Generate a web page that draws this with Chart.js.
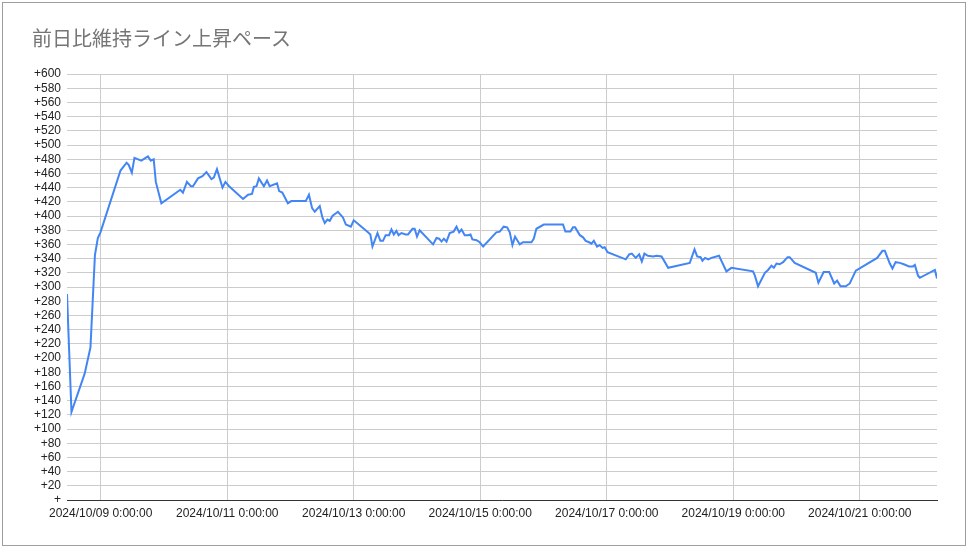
<!DOCTYPE html>
<html>
<head>
<meta charset="utf-8">
<script src="https://cdn.jsdelivr.net/npm/chart.js@4.4.1/dist/chart.umd.min.js"></script>
<style>
  html, body { margin: 0; padding: 0; background: #fff; }
  #wrap { position: relative; width: 968px; height: 550px; overflow: hidden; }
  #frame { position: absolute; left: 2px; top: 2px; width: 962px; height: 542px; border: 1px solid #9e9e9e; box-sizing: content-box; }
  #title { position: absolute; left: 32px; top: 25px; font-family: "Noto Sans CJK JP", sans-serif; font-size: 20px; color: #757575; white-space: nowrap; line-height: 26px; }
  canvas { position: absolute; left: 0; top: 0; }
</style>
</head>
<body>
<div id="wrap">
  <div id="frame"></div>
  <canvas id="c" width="968" height="550"></canvas>
  <div id="title">前日比維持ライン上昇ペース</div>
</div>
<script>
// Hours elapsed since 2024/10/09 0:00:00
const hours = [
  -12.8, -11.1, -6.1, -3.9, -2.2, -1.1, -0.1, 7.5, 9.8, 10.6, 11.8, 12.8, 15.4, 17.9, 19.0, 20.1, 20.9, 23.0,
  30.2, 31.2, 32.7, 34.2, 35.0, 36.9, 38.6, 40.1, 42.0, 42.9, 44.1, 46.2, 47.3, 48.7,
  54.0, 55.9, 57.4, 58.1, 59.1, 60.0, 61.9, 63.1, 64.1, 66.9, 67.7, 68.9, 71.0, 72.3,
  77.8, 79.0, 80.2, 81.2, 83.1, 84.1, 85.0, 86.0, 86.9, 87.9, 90.0, 91.9, 93.0, 94.9, 96.0,
  101.4, 102.3, 103.1, 105.0, 106.1, 107.1, 108.1, 109.4, 110.3, 111.2, 112.2, 113.0, 114.1, 115.7, 116.6,
  118.3, 119.1, 120.0, 121.0, 126.1, 127.4, 128.4, 129.3, 130.2, 131.2, 132.4, 133.9, 135.0, 136.0, 136.9,
  138.1, 139.4, 140.3, 141.0, 142.6, 143.8, 145.1, 150.1, 151.4, 152.9, 154.2, 155.2, 156.2, 157.2, 159.0,
  160.2, 163.4, 164.3, 165.3, 168.1, 175.4, 176.3, 178.2, 179.2, 180.0, 181.8, 183.0, 184.0, 185.3, 186.2,
  187.1, 188.3, 189.3, 190.4, 191.2, 192.3, 199.2, 200.5, 201.5, 203.0, 204.3, 205.3, 206.3, 207.6, 209.6,
  210.9, 212.8, 215.3, 223.5, 225.3, 226.3, 227.6, 228.3, 229.3, 230.5, 231.7, 234.6, 237.4, 239.3,
  247.5, 248.2, 249.4, 252.0, 253.2, 254.5, 255.4, 256.4, 257.6, 258.9, 260.6, 261.4, 263.3,
  271.3, 272.3, 274.3, 276.4, 278.3, 279.4, 280.7, 282.7, 284.2, 286.5, 294.6, 296.6, 297.5, 299.4, 300.4,
  301.6, 303.2, 304.7, 306.7, 308.2, 308.9, 310.1, 310.8, 316.5, 317.3
];
const paceValues = [
  290, 124, 178, 215, 345, 369, 377, 464, 475, 472, 461, 482, 478, 484, 478, 480, 448, 418,
  437, 433, 448, 442, 442, 453, 456, 462, 452, 454, 466, 440, 448, 442,
  424, 430, 431, 441, 442, 453, 442, 450, 442, 446, 435, 433, 418, 421,
  421, 430, 411, 406, 414, 398, 390, 395, 393, 400, 406, 398, 388, 385, 394,
  377, 374, 357, 376, 365, 365, 373, 373, 381, 374, 379, 373, 376, 374, 374,
  382, 382, 371, 380, 360, 369, 368, 364, 368, 364, 376, 378, 385, 377, 381,
  373, 373, 374, 367, 366, 363, 357, 377, 378, 385, 384, 377, 359, 371, 360,
  363, 363, 368, 382, 388, 388, 378, 378, 384, 384, 373, 370, 365, 363, 361,
  365, 357, 359, 355, 356, 349, 339, 346, 347, 341, 346, 336, 347, 344, 343,
  344, 343, 327, 334, 353, 343, 342, 337, 341, 339, 341, 344, 322, 327,
  322, 316, 301, 320, 324, 330, 327, 333, 332, 335, 342, 342, 334,
  320, 306, 321, 321, 305, 309, 301, 301, 305, 323, 341, 351, 351, 333, 326,
  335, 334, 332, 329, 329, 331, 316, 313, 324, 312
];
const yTickStep = 20;
const yMin = 0, yMax = 600;
const xTickStepHours = 48;
const startDate = [2024, 9, 9]; // 2024/10/09

const points = hours.map((h, i) => ({ x: h, y: paceValues[i] }));

function fmtDate(h) {
  const d = new Date(startDate[0], startDate[1], startDate[2], 0, 0, 0);
  d.setTime(d.getTime() + h * 3600000);
  const mm = String(d.getMonth() + 1).padStart(2, '0');
  const dd = String(d.getDate()).padStart(2, '0');
  const mi = String(d.getMinutes()).padStart(2, '0');
  const ss = String(d.getSeconds()).padStart(2, '0');
  return d.getFullYear() + '/' + mm + '/' + dd + ' ' + d.getHours() + ':' + mi + ':' + ss;
}

new Chart(document.getElementById('c'), {
  type: 'line',
  data: {
    datasets: [{
      data: points,
      borderColor: '#4285f4',
      borderWidth: 2,
      pointRadius: 0,
      pointHoverRadius: 0,
      tension: 0,
      fill: false
    }]
  },
  options: {
    responsive: false,
    animation: false,
    events: [],
    layout: { padding: { left: 0, top: 74, right: 31, bottom: 0 } },
    plugins: { legend: { display: false }, title: { display: false }, tooltip: { enabled: false } },
    scales: {
      x: {
        type: 'linear',
        min: hours[0],
        max: hours[hours.length - 1],
        afterFit: (s) => { s.height = 50; },
        border: { display: true, color: '#333333', width: 1 },
        grid: { color: '#cccccc', lineWidth: 1, drawTicks: false },
        ticks: {
          stepSize: xTickStepHours,
          includeBounds: false,
          autoSkip: false,
          maxRotation: 0,
          padding: 6,
          color: '#222222',
          font: { family: '"Liberation Sans", Arial, sans-serif', size: 12 },
          callback: (v) => fmtDate(v)
        }
      },
      y: {
        min: yMin,
        max: yMax,
        afterFit: (s) => { s.width = 67; },
        border: { display: false },
        grid: { color: '#cccccc', lineWidth: 1, drawTicks: false },
        ticks: {
          stepSize: yTickStep,
          autoSkip: false,
          padding: 6,
          color: '#222222',
          font: { family: '"Liberation Sans", Arial, sans-serif', size: 12 },
          callback: (v) => (v === 0 ? '+' : '+' + v)
        }
      }
    }
  }
});
</script>
</body>
</html>
